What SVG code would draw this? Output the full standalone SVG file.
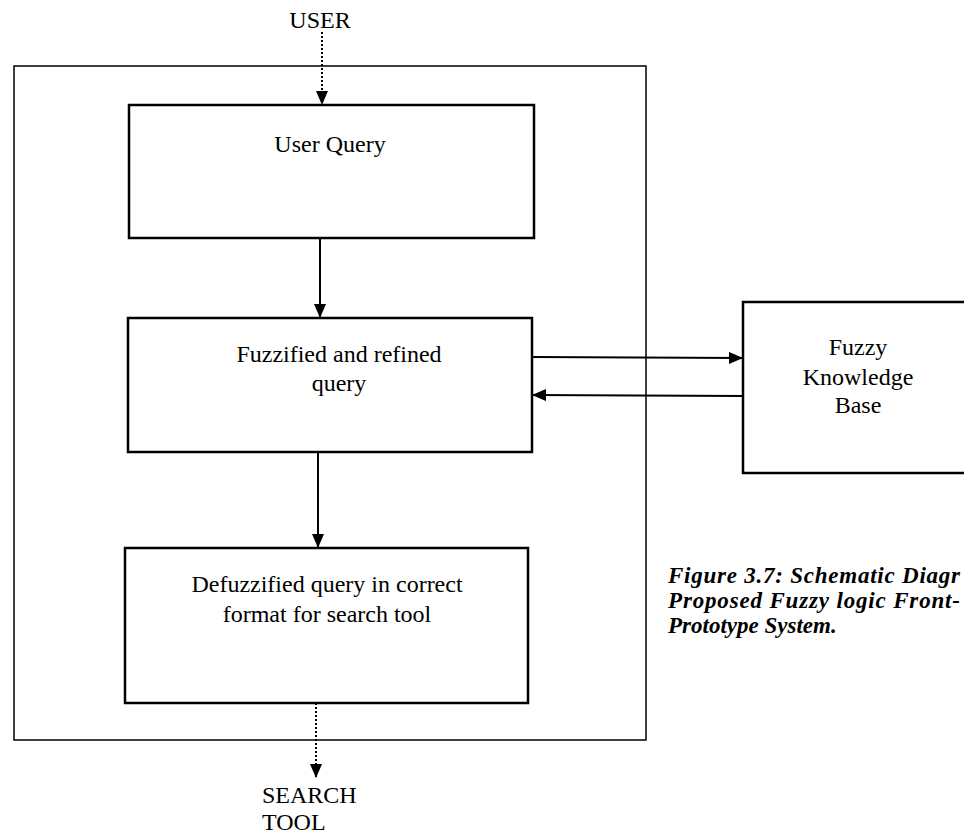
<svg xmlns="http://www.w3.org/2000/svg" width="964" height="835" viewBox="0 0 964 835">
<style>
  .box { fill: none; stroke: #000; stroke-width: 2.5; }
  .frame { fill: none; stroke: #000; stroke-width: 1.5; }
  .lbl { font-family: "Liberation Serif", "Times New Roman", serif; font-size: 24px; fill: #000; }
  .cap { font-family: "Liberation Serif", "Times New Roman", serif; font-size: 23px; font-weight: bold; font-style: italic; fill: #000; }
  .conn { stroke: #000; stroke-width: 2; fill: none; }
  .dot { stroke: #000; stroke-width: 2; fill: none; stroke-dasharray: 2 2; }
</style>
<defs>
  <marker id="ah" viewBox="0 0 14 12" markerWidth="14" markerHeight="12" refX="14" refY="6" orient="auto" markerUnits="userSpaceOnUse">
    <path d="M0,0 L14,6 L0,12 z" fill="#000"/>
  </marker>
</defs>
<rect width="964" height="835" fill="#fff"/>

<g id="frame">
  <rect class="frame" x="14" y="66" width="632" height="674"/>
</g>

<g id="user">
  <text class="lbl" x="320" y="28" text-anchor="middle">USER</text>
</g>

<g id="userQuery">
  <rect class="box" x="129" y="105" width="405" height="133"/>
  <text class="lbl" x="330" y="152" text-anchor="middle">User Query</text>
</g>

<g id="fuzzified">
  <rect class="box" x="128" y="318" width="404" height="134"/>
  <text class="lbl" x="339" y="362" text-anchor="middle">Fuzzified and refined</text>
  <text class="lbl" x="339" y="391" text-anchor="middle">query</text>
</g>

<g id="defuzzified">
  <rect class="box" x="125" y="548" width="403" height="155"/>
  <text class="lbl" x="327" y="592" text-anchor="middle">Defuzzified query in correct</text>
  <text class="lbl" x="327" y="622" text-anchor="middle">format for search tool</text>
</g>

<g id="fkb">
  <rect class="box" x="743" y="302" width="240" height="171"/>
  <text class="lbl" x="858" y="355" text-anchor="middle">Fuzzy</text>
  <text class="lbl" x="858" y="385" text-anchor="middle">Knowledge</text>
  <text class="lbl" x="858" y="413" text-anchor="middle">Base</text>
</g>

<g id="search">
  <text class="lbl" x="262" y="803">SEARCH</text>
  <text class="lbl" x="262" y="830">TOOL</text>
</g>

<g id="caption">
  <text class="cap" x="668" y="583" textLength="292" lengthAdjust="spacing">Figure 3.7: Schematic Diagr</text>
  <text class="cap" x="668" y="608" textLength="292" lengthAdjust="spacing">Proposed Fuzzy logic Front-</text>
  <text class="cap" x="668" y="633">Prototype System.</text>
</g>

<g id="connectors">
  <line class="dot" x1="322" y1="32" x2="322" y2="105" marker-end="url(#ah)"/>
  <line class="conn" x1="320" y1="238" x2="320" y2="318" marker-end="url(#ah)"/>
  <line class="conn" x1="318" y1="452" x2="318" y2="548" marker-end="url(#ah)"/>
  <line class="conn" x1="532" y1="357" x2="743" y2="358" marker-end="url(#ah)"/>
  <line class="conn" x1="743" y1="396" x2="532" y2="395" marker-end="url(#ah)"/>
  <line class="dot" x1="316" y1="703" x2="316" y2="778" marker-end="url(#ah)"/>
</g>
</svg>
